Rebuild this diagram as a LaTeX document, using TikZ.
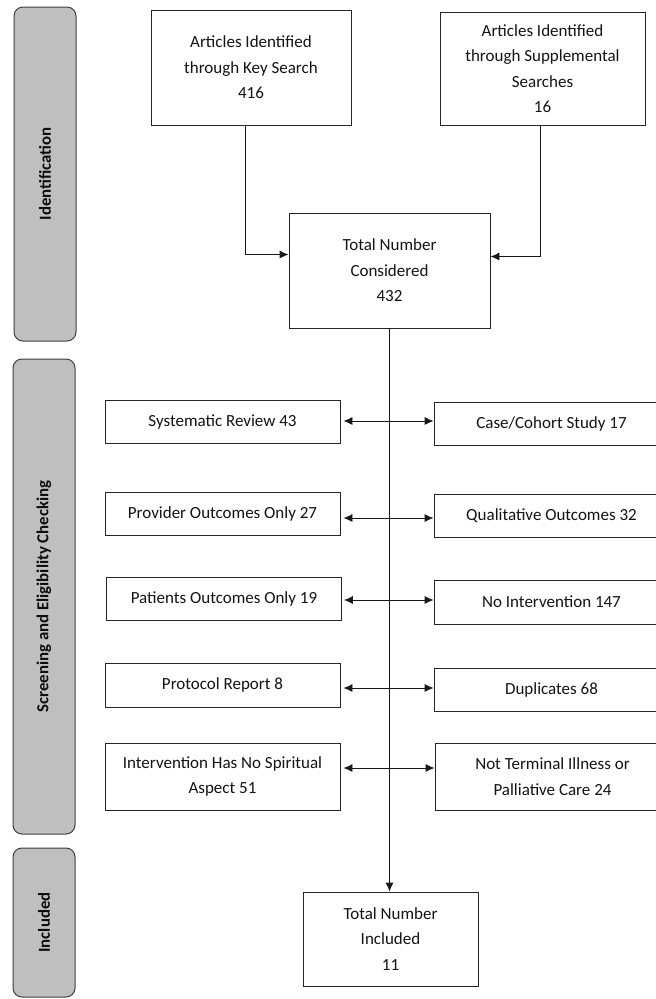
\documentclass[tikz,border=0pt]{standalone}
\usepackage{fontspec}
\setmainfont{Carlito}
\usetikzlibrary{arrows.meta}
\begin{document}
\begin{tikzpicture}[x=1pt,y=-1pt,
  box/.style={draw=black!85, line width=0.9pt, fill=white, inner sep=0pt, align=center,
    font=\fontsize{17}{25.5}\selectfont, text=black!92},
  bar/.style={draw=black!75, line width=1pt, fill=black!25, rounded corners=9pt, rotate=90,
    inner sep=0pt, font=\fontsize{16.8}{18}\selectfont\bfseries, text=black!95, minimum height=62pt},
  conn/.style={draw=black!90, line width=0.9pt},
  arr/.style={conn, -{Latex[length=9pt,width=8pt]}},
  darr/.style={conn, {Latex[length=9pt,width=8pt]}-{Latex[length=9pt,width=8pt]}},
  lbox/.style={box, minimum width=235pt},
  rbox/.style={box, minimum width=235pt}]
\useasboundingbox (0,0) rectangle (656,999);
\clip (0,0) rectangle (656,999);
\fill[white] (0,0) rectangle (656,999);

% phase bars
\node[bar, minimum width=334pt] (idb) at (45,174) {Identification};
\node[bar, minimum width=475pt] (scb) at (44,596.5) {Screening and Eligibility Checking};
\node[bar, minimum width=149pt] (inb) at (44,922.5) {Included};

% identification
\node[box, minimum width=200pt, minimum height=115pt] (ks) at (251,67.5)
  {Articles Identified\\through Key Search\\416};
\node[box, minimum width=205pt, minimum height=113pt] (su) at (542.5,68.5)
  {Articles Identified\\through Supplemental\\Searches\\16};
\node[box, minimum width=201pt, minimum height=115pt] (tc) at (389.5,270.5)
  {Total Number\\Considered\\432};

% screening
\node[lbox, minimum height=43pt] (sr) at (222.5,421.5) {Systematic Review 43};
\node[lbox, minimum height=43pt] (po) at (222.5,513.5) {Provider Outcomes Only 27};
\node[lbox, minimum height=43pt] (pa) at (224,598.5) {Patients Outcomes Only 19};
\node[lbox, minimum height=44pt] (pr) at (222.5,685) {Protocol Report 8};
\node[lbox, minimum height=67pt] (iv) at (222.5,776.5) {Intervention Has No Spiritual\\Aspect 51};

\node[rbox, minimum height=43pt] (cc) at (551.5,423.5) {Case/Cohort Study 17};
\node[rbox, minimum height=43pt] (qo) at (551.5,515.5) {Qualitative Outcomes 32};
\node[rbox, minimum height=44pt] (ni) at (551.5,602) {No Intervention 147};
\node[rbox, minimum height=43pt] (du) at (551.5,689.5) {Duplicates 68};
\node[rbox, minimum height=67pt] (nt) at (552.5,776.5) {Not Terminal Illness or\\Palliative Care 24};

% included
\node[box, minimum width=175pt, minimum height=94pt] (ti) at (390.5,939)
  {Total Number\\Included\\11};

% connectors
\draw[arr] ([xshift=-6pt]ks.south) |- ([yshift=16pt]tc.west);
\draw[arr] ([xshift=-2.5pt]su.south) |- ([yshift=14pt]tc.east);
\draw[arr] (tc.south) -- (tc.south |- ti.north);

\draw[darr] ([xshift=3pt]sr.east |- 0,421) -- (cc.west |- 0,421);
\draw[darr] ([xshift=3pt]po.east |- 0,518) -- (qo.west |- 0,518);
\draw[darr] ([xshift=2pt]pa.east |- 0,600) -- (ni.west |- 0,600);
\draw[darr] ([xshift=3pt]pr.east |- 0,688) -- (du.west |- 0,688);
\draw[darr] ([xshift=3pt]iv.east |- 0,768) -- (nt.west |- 0,768);
\end{tikzpicture}
\end{document}
